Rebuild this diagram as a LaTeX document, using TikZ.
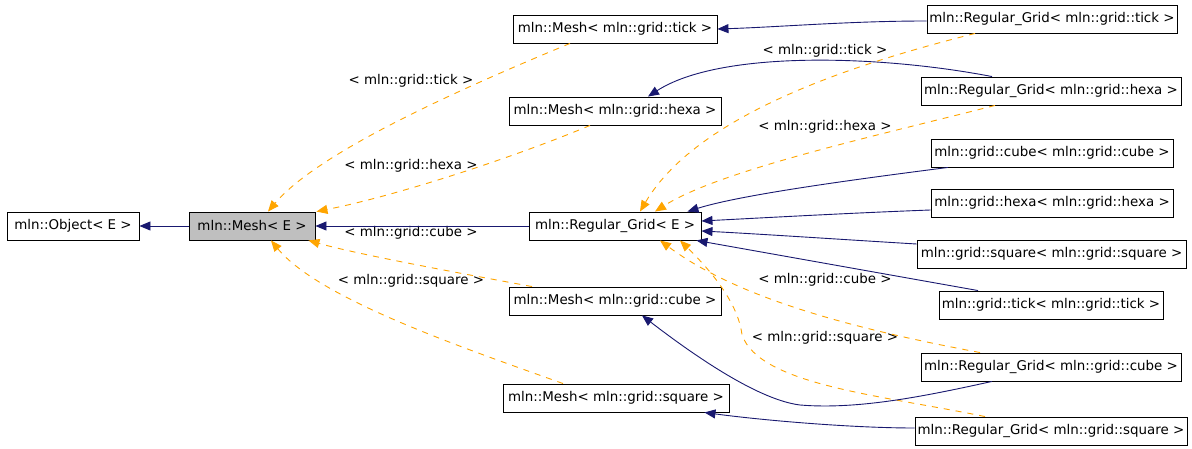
\documentclass[tikz,border=0pt]{standalone}
\usepackage{fontspec}
\setmainfont{DejaVu Sans}
\usetikzlibrary{arrows.meta}
\definecolor{navy}{HTML}{191970}
\definecolor{dorange}{HTML}{FFA500}
\definecolor{boxgray}{HTML}{BFBFBF}
\begin{document}
\begin{tikzpicture}[x=1pt,y=-1pt,
  box/.style={draw=black,line width=0.9pt,fill=white,rectangle,inner sep=0pt,minimum height=28pt,font=\fontsize{13.4}{15}\selectfont},
  lbl/.style={inner sep=0pt,font=\fontsize{13.4}{15}\selectfont},
  inh/.style={draw=navy,line width=0.9pt,-{Triangle[length=11pt,width=9pt]}},
  tmpl/.style={draw=dorange,line width=0.9pt,dash pattern=on 6pt off 6pt,-{Triangle[length=11pt,width=9pt]}}]
\useasboundingbox (0,0) rectangle (1192,449);
\fill[white] (0,0) rectangle (1192,449);
% nodes
\node[box,minimum width=132pt] (obj) at (73,226) {mln::Object< E >};
\node[box,minimum width=126pt,fill=boxgray] (meshE) at (252,226) {mln::Mesh< E >};
\node[box,minimum width=204pt] (meshTick) at (615,29) {mln::Mesh< mln::grid::tick >};
\node[box,minimum width=212pt] (meshHexa) at (615,111) {mln::Mesh< mln::grid::hexa >};
\node[box,minimum width=172pt] (rgE) at (615,226) {mln::Regular\_Grid< E >};
\node[box,minimum width=212pt] (meshCube) at (615,301) {mln::Mesh< mln::grid::cube >};
\node[box,minimum width=226pt] (meshSquare) at (616,398) {mln::Mesh< mln::grid::square >};
\node[box,minimum width=250pt] (rgTick) at (1052,19) {mln::Regular\_Grid< mln::grid::tick >};
\node[box,minimum width=260pt] (rgHexa) at (1051,91) {mln::Regular\_Grid< mln::grid::hexa >};
\node[box,minimum width=242pt] (gCube) at (1052,153) {mln::grid::cube< mln::grid::cube >};
\node[box,minimum width=242pt] (gHexa) at (1052,203) {mln::grid::hexa< mln::grid::hexa >};
\node[box,minimum width=269pt] (gSquare) at (1051.5,254) {mln::grid::square< mln::grid::square >};
\node[box,minimum width=224pt] (gTick) at (1051,305) {mln::grid::tick< mln::grid::tick >};
\node[box,minimum width=260pt] (rgCube) at (1051,367) {mln::Regular\_Grid< mln::grid::cube >};
\node[box,minimum width=272pt] (rgSquare) at (1051,431) {mln::Regular\_Grid< mln::grid::square >};
% labels
\node[lbl] (l1) at (411,81) {< mln::grid::tick >};
\node[lbl] (l2) at (411,166) {< mln::grid::hexa >};
\node[lbl] (l3) at (411,233) {< mln::grid::cube >};
\node[lbl] (l4) at (411,281) {< mln::grid::square >};
\node[lbl] (r1) at (825,51) {< mln::grid::tick >};
\node[lbl] (r2) at (825,127) {< mln::grid::hexa >};
\node[lbl] (r3) at (825,280) {< mln::grid::cube >};
\node[lbl] (r4) at (825,338) {< mln::grid::square >};
% edges
\draw[inh] (meshE.west) -- (obj.east);
\draw[inh] (rgE.west) -- (meshE.east);
\draw[tmpl] ([xshift=-45pt]meshTick.south) .. controls (470,85) and (320,150) .. ([xshift=16pt]meshE.north);
\draw[tmpl] ([xshift=-25pt]meshHexa.south) .. controls (520,155) and (400,195) .. ([xshift=1pt]meshE.north east);
\draw[tmpl] ([xshift=-83pt]meshCube.north) .. controls (470,275) and (360,255) .. ([xshift=-7pt]meshE.south east);
\draw[tmpl] ([xshift=-53pt]meshSquare.north) .. controls (470,350) and (320,300) .. ([xshift=19pt]meshE.south);
\draw[inh] ([yshift=-2pt]rgTick.west) .. controls (850,21) and (780,27) .. (meshTick.east);
\draw[inh] ([xshift=-59pt]rgHexa.north) .. controls (880,55) and (720,50) .. ([xshift=33pt]meshHexa.north);
\draw[tmpl] ([xshift=-77pt]rgTick.south) .. controls (870,60) and (700,110) .. ([xshift=25pt]rgE.north);
\draw[tmpl] ([xshift=-56pt]rgHexa.south) .. controls (880,135) and (720,170) .. ([xshift=40pt]rgE.north);
\draw[inh] ([xshift=-104pt]gCube.south) .. controls (850,180) and (740,195) .. ([xshift=-14pt]rgE.north east);
\draw[inh] ([yshift=-7pt]gHexa.west) .. controls (850,213) and (760,218) .. ([yshift=5pt]rgE.east);
\draw[inh] ([yshift=10pt]gSquare.west) .. controls (850,240) and (760,234) .. ([yshift=-5pt]rgE.east);
\draw[inh] ([xshift=-73pt]gTick.north) -- ([xshift=-5pt]rgE.south east);
\draw[tmpl] ([xshift=-71pt]rgCube.north) .. controls (860,330) and (740,300) .. ([xshift=45pt]rgE.south);
\draw[tmpl] ([xshift=-66pt]rgSquare.north) .. controls (880,395) and (760,385) .. (742,335) .. controls (738,300) and (705,265) .. ([xshift=65pt]rgE.south);
\draw[inh] ([xshift=-59pt]rgCube.south) .. controls (930,395) and (860,410) .. (800,405) .. controls (760,400) and (700,360) .. ([xshift=27pt]meshCube.south);
\draw[inh] ([yshift=3pt]rgSquare.west) .. controls (850,428) and (760,420) .. ([xshift=-25pt]meshSquare.south east);
\end{tikzpicture}
\end{document}
